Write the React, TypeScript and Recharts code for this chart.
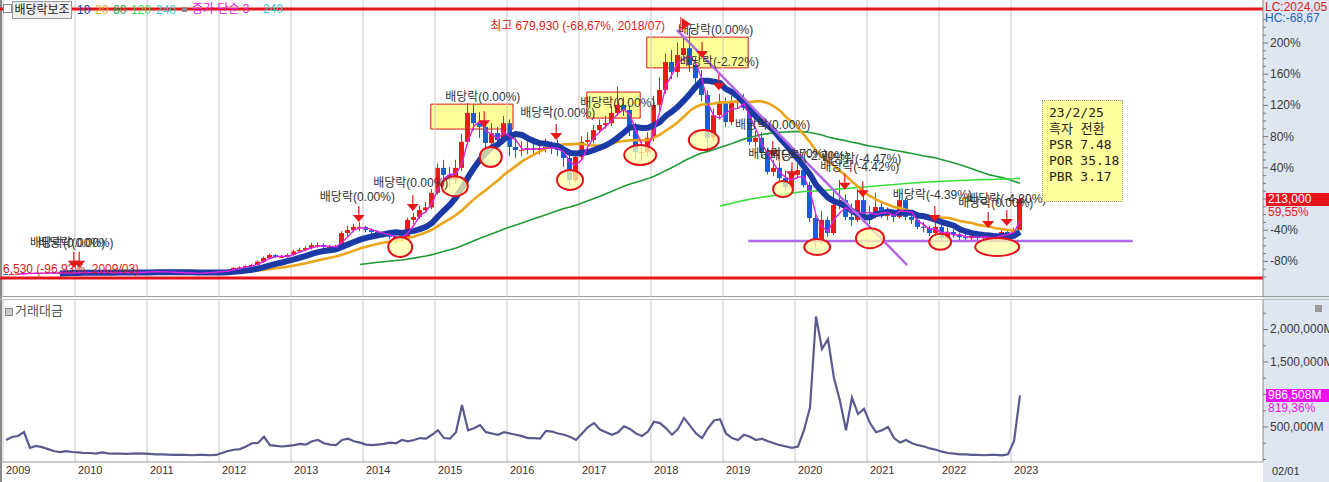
import React from 'react';
import {
  ComposedChart,
  Bar,
  Line,
  XAxis,
  YAxis,
  ReferenceLine,
  ReferenceArea,
  ReferenceDot,
} from 'recharts';

const FONT = '"Liberation Sans", "Noto Sans CJK KR", sans-serif';
const MONO = '"DejaVu Sans Mono", "Noto Sans CJK KR", monospace';

// x axis: one label per January
const yearLabels = ['2009', '2010', '2011', '2012', '2013', '2014', '2015', '2016', '2017', '2018', '2019', '2020', '2021', '2022', '2023'];

// monthly candles 2009/01 .. 2023/02, unit: 1,000 won
const opens = [
  8, 7, 8, 9, 10, 11, 10, 11, 12, 11, 10, 11,
  12, 12, 13, 12, 13, 12, 11, 12, 13, 12, 12, 13,
  14, 14, 15, 14, 13, 12, 12, 11, 10, 11, 12, 13,
  14, 16, 18, 25, 26, 30, 33, 42, 52, 60, 55, 55,
  60, 70, 74, 79, 87, 87, 82, 82, 82, 120, 128, 137,
  137, 128, 123, 120, 115, 110, 101, 106, 156, 164, 183, 190,
  230, 298, 279, 265, 298, 369, 448, 420, 410, 366, 393, 374,
  420, 355, 347, 347, 352, 347, 352, 355, 352, 347, 325, 265,
  328, 369, 374, 401, 415, 420, 448, 470, 456, 401, 341, 341,
  380, 470, 511, 587, 560, 606, 625, 579, 543, 497, 380, 442,
  478, 423, 475, 483, 462, 369, 380, 339, 287, 298, 270, 246,
  279, 292, 251, 161, 96, 156, 120, 197, 210, 164, 156, 210,
  156, 164, 191, 169, 169, 164, 210, 164, 156, 137, 134, 120,
  137, 106, 123, 115, 109, 106, 112, 106, 112, 106, 109, 123,
  115, 128,
];
const highs = [
  9, 9, 10, 11, 12, 12, 12, 13, 13, 12, 12, 13,
  13, 14, 14, 14, 14, 13, 13, 14, 14, 13, 14, 15,
  16, 16, 16, 15, 14, 13, 13, 12, 12, 13, 14, 15,
  17, 20, 27, 29, 32, 36, 45, 56, 64, 62, 60, 64,
  75, 80, 84, 94, 95, 92, 88, 88, 125, 140, 145, 150,
  140, 133, 128, 124, 118, 114, 112, 162, 175, 195, 205, 240,
  310, 320, 300, 320, 390, 475, 470, 450, 425, 420, 410, 440,
  430, 380, 370, 375, 380, 372, 378, 370, 375, 355, 340, 345,
  385, 395, 415, 430, 440, 465, 520, 490, 470, 420, 370, 395,
  495, 545, 610, 620, 640, 660, 680, 600, 565, 510, 460, 500,
  490, 495, 510, 500, 470, 400, 395, 350, 320, 315, 290, 295,
  310, 305, 260, 170, 180, 165, 240, 265, 225, 200, 240, 230,
  195, 230, 205, 190, 180, 225, 215, 175, 165, 150, 140, 150,
  142, 135, 130, 122, 118, 122, 120, 122, 118, 120, 128, 128,
  135, 220,
];
const lows = [
  6.5, 6.8, 7.5, 8.5, 9.5, 9.5, 9.5, 10.5, 10, 9.5, 9.5, 10.5,
  11, 11.5, 11.5, 11.5, 11.5, 10.5, 10.5, 11.5, 11.5, 11, 11.5, 12.5,
  13, 13.5, 13, 12, 11, 11, 10, 9, 9.5, 10.5, 11.5, 12.5,
  13, 15, 17, 23, 24, 28, 31, 40, 50, 52, 51, 53,
  58, 66, 70, 75, 80, 78, 76, 77, 80, 112, 122, 125,
  122, 118, 114, 108, 103, 92, 96, 104, 145, 158, 175, 185,
  225, 262, 245, 255, 290, 360, 400, 380, 340, 350, 360, 365,
  330, 325, 330, 335, 335, 335, 340, 335, 330, 300, 250, 258,
  320, 350, 365, 395, 405, 412, 440, 440, 385, 320, 318, 330,
  370, 455, 500, 540, 545, 590, 560, 520, 480, 345, 370, 430,
  410, 415, 460, 455, 360, 355, 325, 280, 275, 260, 238, 240,
  270, 245, 150, 80, 90, 110, 115, 185, 155, 140, 150, 150,
  145, 160, 160, 155, 150, 160, 155, 145, 130, 122, 112, 115,
  100, 102, 108, 100, 98, 100, 98, 102, 98, 100, 105, 110,
  110, 125,
];
const closes = [
  7, 8, 9, 10, 11, 10, 11, 12, 11, 10, 11, 12,
  12, 13, 12, 13, 12, 11, 12, 13, 12, 12, 13, 14,
  14, 15, 14, 13, 12, 12, 11, 10, 11, 12, 13, 14,
  16, 18, 25, 26, 30, 33, 42, 52, 60, 55, 55, 60,
  70, 74, 79, 87, 87, 82, 82, 82, 120, 128, 137, 137,
  128, 123, 120, 115, 110, 101, 106, 156, 164, 183, 190, 230,
  298, 279, 265, 298, 369, 448, 420, 410, 366, 393, 374, 420,
  355, 347, 347, 352, 347, 352, 355, 352, 347, 325, 265, 328,
  369, 374, 401, 415, 420, 448, 470, 456, 401, 341, 341, 380,
  470, 511, 587, 560, 606, 625, 579, 543, 497, 380, 442, 478,
  423, 475, 483, 462, 369, 380, 339, 287, 298, 270, 246, 279,
  292, 251, 161, 96, 156, 120, 197, 210, 164, 156, 210, 156,
  164, 191, 169, 169, 164, 210, 164, 156, 137, 134, 120, 137,
  106, 123, 115, 109, 106, 112, 106, 112, 106, 109, 123, 115,
  128, 213,
];

// 거래대금 per month, unit: 1,000M won
const tradeValue = [
  300, 346, 362, 423, 177, 208, 190, 160, 130, 115, 130, 115,
  110, 100, 100, 90, 110, 95, 90, 90, 85, 90, 95, 90,
  85, 80, 80, 75, 70, 70, 70, 65, 70, 70, 65, 70,
  100, 130, 150, 160, 200, 250, 254, 350, 220, 210, 200, 210,
  220, 240, 230, 280, 300, 250, 230, 220, 300, 320, 280, 260,
  230, 220, 230, 240, 260, 250, 300, 280, 300, 330, 320, 380,
  450, 330, 320, 420, 840, 450, 480, 530, 420, 400, 380, 420,
  400, 380, 360, 330, 330, 320, 440, 430, 400, 380, 350, 300,
  400, 500, 560, 460, 420, 380, 420, 510, 470, 400, 360, 430,
  580, 560, 480, 380, 470, 640, 520, 400, 330, 480, 600, 620,
  400, 330, 300, 380, 350, 300, 320, 280, 250, 220, 200, 180,
  200, 450, 800, 2200, 1700, 1850, 1250, 900, 450, 950, 700, 780,
  560, 420, 450, 500, 330, 260, 300, 250, 220, 200, 170, 150,
  120, 100, 90, 80, 80, 70, 70, 65, 70, 70, 65, 80,
  280, 986.508,
];

// percent axis is relative to the last price (213,000)
const basePrice = 213;
const pctLabels = [200, 160, 120, 80, 40, -40, -80];
const valueLabels = [500, 1500, 2000];

// annotations, in (month index, price)
const boxes = [
  [70.8, 84.5, 404, 472],
  [96.8, 105.7, 434, 505],
  [106.8, 123.7, 571, 655],
];
const circles = [
  [65.7, 82, 12, 10], [74.8, 248, 13, 10], [80.8, 328, 11, 10], [94, 265, 13, 10],
  [105.7, 333, 16, 10], [116.3, 374, 15, 10], [129.5, 240, 10, 8], [135.2, 82, 13, 8],
  [144, 106, 14, 10], [155.7, 96, 11, 8], [165.2, 82, 22, 9],
];
const notes: [number, number, string][] = [
  [4, 82, '배당락(0.00%)'], [5.4, 82, '배당락(0.00%)'],
  [52.3, 207, '배당락(0.00%)'], [61.2, 246, '배당락(0.00%)'],
  [73.2, 481, '배당락(0.00%)'], [85.7, 437, '배당락(0.00%)'],
  [95.7, 464, '배당락(0.00%)'], [112, 664, '배당락(0.00%)'],
  [112.3, 576, '배당락(-2.72%)'], [121.5, 404, '배당락(0.00%)'],
  [123.7, 325, '배당락(-2.70%)'], [127.3, 320, '배당락(-2.70%)'],
  [136, 311, '배당락(-4.47%)'], [135.7, 290, '배당락(-4.42%)'],
  [147.8, 213, '배당락(-4.39%)'], [158.7, 191, '배당락(0.00%)'],
  [160.2, 202, '배당락(-4.30%)'],
];
const arrows = [
  [11.3, 25], [12.2, 25], [58.8, 150], [67.8, 180], [79.7, 409], [91.7, 374],
  [116, 598], [118.8, 510], [127.8, 328], [131, 270], [139.8, 238], [142.8, 218],
  [154.8, 150], [163.7, 134], [166.8, 139],
];

function sma(src: number[], n: number) {
  return src.map((_, i) =>
    i < n - 1 ? null : src.slice(i - n + 1, i + 1).reduce((a, b) => a + b, 0) / n
  );
}

const ma3 = sma(closes, 3);
const ma10 = sma(closes, 10);
const ma20 = sma(closes, 20);
const ma60 = sma(closes, 60);
const ma120 = sma(closes, 120);

const rows = closes.map((c, i) => ({
  i,
  open: opens[i],
  high: highs[i],
  low: lows[i],
  close: c,
  range: [lows[i], highs[i]],
  ma3: ma3[i],
  ma10: ma10[i],
  ma20: ma20[i],
  ma60: ma60[i],
  ma120: ma120[i],
  value: tradeValue[i],
}));

const yearTicks = yearLabels.map((_, k) => k * 12 - 0.5);
const priceTicks: number[] = [];
for (let p = -100; p <= 230; p += 10) priceTicks.push(basePrice * (1 + p / 100));
const valueTicks: number[] = [];
for (let v = 0; v <= 2250; v += 250) valueTicks.push(v);

const Candle = (props: any) => {
  const { x, y, width, height, payload } = props;
  if (!payload) return null;
  const { open, close, high, low } = payload;
  const up = close >= open;
  const color = up ? '#f01a1a' : '#1a5cd8';
  const top = Math.min(y, y + height);
  const h = Math.abs(height);
  const k = high === low ? 0 : h / (high - low);
  const yO = top + (high - open) * k;
  const yC = top + (high - close) * k;
  const cx = x + width / 2;
  return (
    <g>
      <line x1={cx} x2={cx} y1={top} y2={top + h} stroke={color} strokeWidth={1} />
      <rect x={x} y={Math.min(yO, yC)} width={width} height={Math.max(1, Math.abs(yO - yC))} fill={color} />
    </g>
  );
};

const PriceTick = (props: any) => {
  const { x, y, payload } = props;
  const pct = Math.round((payload.value / basePrice - 1) * 100);
  const labelled = pctLabels.includes(pct);
  return (
    <g>
      <line x1={x} x2={x + (labelled ? 5 : 3)} y1={y} y2={y} stroke="#7a7a7a" />
      {labelled && (
        <text x={x + 7} y={y + 4} fontSize={12} fontFamily={FONT} fill="#3a3a3a">{`${pct}%`}</text>
      )}
    </g>
  );
};

const ValueTick = (props: any) => {
  const { x, y, payload } = props;
  const labelled = valueLabels.includes(payload.value);
  return (
    <g>
      <line x1={x} x2={x + (labelled ? 5 : 3)} y1={y} y2={y} stroke="#7a7a7a" />
      {labelled && (
        <text x={x + 7} y={y + 4} fontSize={12} fontFamily={FONT} fill="#3a3a3a">
          {`${(payload.value * 1000).toLocaleString('en-US')}M`}
        </text>
      )}
    </g>
  );
};

const YearTick = (props: any) => {
  const { x, y, payload } = props;
  const k = Math.round((payload.value + 0.5) / 12);
  return (
    <text x={x + 3} y={y + 4} fontSize={11} fontFamily={FONT} fill="#333">{yearLabels[k]}</text>
  );
};

const noteShape = (text: string, color = '#333') => (p: any) => (
  <text x={p.cx} y={p.cy} fontSize={12} fontFamily={FONT} fill={color}>{text}</text>
);

const circleShape = (rx: number, ry: number) => (p: any) => (
  <ellipse cx={p.cx} cy={p.cy} rx={rx} ry={ry} fill="#ffffa8" fillOpacity={0.75} stroke="#e0141c" strokeWidth={2} />
);

const arrowShape = (p: any) => (
  <g>
    <line x1={p.cx} x2={p.cx} y1={p.cy - 16} y2={p.cy - 5} stroke="#e81818" strokeWidth={1.2} />
    <polygon points={`${p.cx - 6},${p.cy - 7} ${p.cx + 6},${p.cy - 7} ${p.cx},${p.cy}`} fill="#e81818" />
  </g>
);

const highMark = (p: any) => (
  <g>
    <line x1={p.cx - 2} x2={p.cx - 2} y1={p.cy - 7} y2={p.cy + 7} stroke="#e81818" />
    <polygon points={`${p.cx - 1},${p.cy - 6} ${p.cx + 8},${p.cy} ${p.cx - 1},${p.cy + 6}`} fill="#e81818" />
  </g>
);

const legendItems = [
  { t: '10', c: '#1c3aa6' },
  { t: '20', c: '#e3b10f' },
  { t: '60', c: '#239b3a' },
  { t: '120', c: '#44d644' },
  { t: '240', c: '#3cc8c8' },
];

export default function App() {
  const label = (left: number, top: number, text: string, color: string, extra: any = {}) => (
    <div style={{ position: 'absolute', left, top, fontSize: 12, fontFamily: FONT, color, whiteSpace: 'nowrap', lineHeight: '13px', ...extra }}>
      {text}
    </div>
  );

  return (
    <div style={{ position: 'absolute', left: 0, top: 0, width: 1329, height: 482, background: '#fff', overflow: 'hidden' }}>
      {/* axis strip */}
      <div style={{ position: 'absolute', left: 1263, top: 0, width: 66, height: 482, background: '#dde6f1' }} />
      <div style={{ position: 'absolute', left: 0, top: 0, width: 2, height: 482, background: '#8a8a8a' }} />
      <div style={{ position: 'absolute', left: 0, top: 296, width: 1329, height: 1, background: '#9a9a9a' }} />
      <div style={{ position: 'absolute', left: 0, top: 299, width: 1329, height: 1, background: '#c0c0c0' }} />

      <div style={{ position: 'absolute', left: 0, top: 0 }}>
        <ComposedChart width={1329} height={297} data={rows} margin={{ top: 0, right: 0, bottom: 0, left: 0 }}>
          <XAxis type="number" dataKey="i" domain={[-1, 209.5]} hide allowDataOverflow />
          <YAxis
            yAxisId={0}
            orientation="right"
            type="number"
            width={66}
            domain={[-54.6, 756.4]}
            ticks={priceTicks}
            interval={0}
            tick={<PriceTick />}
            tickLine={false}
            tickSize={0}
            tickMargin={0}
            axisLine={{ stroke: '#8a8a8a' }}
            allowDataOverflow
          />
          {yearTicks.map((x) => (
            <ReferenceLine key={`g${x}`} x={x} stroke="#c8c8c8" />
          ))}
          {boxes.map((b, k) => (
            <ReferenceArea key={`b${k}`} x1={b[0]} x2={b[1]} y1={b[2]} y2={b[3]} fill="#ffff99" fillOpacity={1} stroke="#d81818" strokeWidth={1} />
          ))}
          <ReferenceLine y={731.8} stroke="#e8141c" strokeWidth={3} />
          <ReferenceLine y={-3} stroke="#e8141c" strokeWidth={3} />
          {circles.map((c, k) => (
            <ReferenceDot key={`c${k}`} x={c[0]} y={c[1]} r={1} shape={circleShape(c[2], c[3])} />
          ))}
          <Line dataKey="ma60" stroke="#1f9a35" strokeWidth={1.6} dot={false} isAnimationActive={false} />
          <Line dataKey="ma120" stroke="#38e038" strokeWidth={1.6} dot={false} isAnimationActive={false} />
          <Line dataKey="ma20" stroke="#eca51a" strokeWidth={2.6} dot={false} isAnimationActive={false} />
          <Line dataKey="ma10" stroke="#1c3aa6" strokeWidth={6} dot={false} isAnimationActive={false} />
          <Bar dataKey="range" barSize={5} shape={Candle} isAnimationActive={false} />
          <Line dataKey="ma3" stroke="#e020e0" strokeWidth={1.4} dot={false} isAnimationActive={false} />
          <ReferenceLine segment={[{ x: 111.8, y: 674.5 }, { x: 150.2, y: 32.7 }]} stroke="#b06ae6" strokeWidth={2.5} />
          <ReferenceLine segment={[{ x: 123.7, y: 98.3 }, { x: 187.8, y: 98.3 }]} stroke="#b06ae6" strokeWidth={2.5} />
          {arrows.map((a, k) => (
            <ReferenceDot key={`a${k}`} x={a[0]} y={a[1]} r={1} shape={arrowShape} />
          ))}
          {notes.map((n, k) => (
            <ReferenceDot key={`n${k}`} x={n[0]} y={n[1]} r={1} shape={noteShape(n[2])} />
          ))}
          <ReferenceDot x={80.7} y={674.5} r={1} shape={noteShape('최고 679,930 (-68,67%, 2018/07)', '#d81c1c')} />
          <ReferenceDot x={112.8} y={691} r={1} shape={highMark} />
          <ReferenceDot x={-0.5} y={12} r={1} shape={noteShape('6,530 (-96,93%, 2009/03)', '#d81c1c')} />
        </ComposedChart>
      </div>

      <div style={{ position: 'absolute', left: 0, top: 298 }}>
        <ComposedChart width={1329} height={184} data={rows} margin={{ top: 2, right: 0, bottom: 0, left: 0 }}>
          <XAxis
            type="number"
            dataKey="i"
            domain={[-1, 209.5]}
            ticks={yearTicks}
            interval={0}
            tick={<YearTick />}
            tickLine={false}
            height={20}
            axisLine={{ stroke: '#9a9a9a' }}
            allowDataOverflow
          />
          <YAxis
            orientation="right"
            type="number"
            width={66}
            domain={[-38.5, 2453.8]}
            ticks={valueTicks}
            interval={0}
            tick={<ValueTick />}
            tickLine={false}
            tickSize={0}
            tickMargin={0}
            axisLine={{ stroke: '#8a8a8a' }}
            allowDataOverflow
          />
          {yearTicks.map((x) => (
            <ReferenceLine key={`v${x}`} x={x} stroke="#c8c8c8" />
          ))}
          <Line dataKey="value" stroke="#5a5a8e" strokeWidth={2.2} dot={false} isAnimationActive={false} />
        </ComposedChart>
      </div>

      {/* legend */}
      <div style={{ position: 'absolute', left: 3, top: 4, width: 7, height: 7, border: '1px solid #888', background: '#fff' }} />
      <div style={{ position: 'absolute', left: 12, top: 1, width: 58, height: 16, border: '1px solid #999', background: '#eee', fontSize: 12, fontFamily: FONT, color: '#222', textAlign: 'center', lineHeight: '16px' }}>배당락보조</div>
      {legendItems.map((l, k) =>
        <div key={l.t} style={{ position: 'absolute', left: [77, 95, 113, 131, 156][k], top: 3, fontSize: 12, fontFamily: FONT, color: l.c }}>{l.t}</div>
      )}
      <div style={{ position: 'absolute', left: 182, top: 7, width: 5, height: 5, background: '#888' }} />
      {label(192, 3, '종가 단순 3', '#e020e0')}
      {label(263, 3, '240', '#3cc8c8')}

      {/* right strip labels */}
      {label(1265, 1, 'LC:2024,05', '#d81c1c')}
      {label(1265, 12, 'HC:-68,67', '#1f5fbf')}
      <div style={{ position: 'absolute', left: 1266, top: 193, width: 63, height: 13, background: '#e8161c', color: '#fff', fontSize: 12, fontFamily: FONT, lineHeight: '13px', paddingLeft: 2 }}>213,000</div>
      {label(1268, 206, '59,55%', '#e8161c')}
      <div style={{ position: 'absolute', left: 1266, top: 389, width: 63, height: 13, background: '#ee10ee', color: '#fff', fontSize: 12, fontFamily: FONT, lineHeight: '13px', paddingLeft: 2 }}>986,508M</div>
      {label(1268, 402, '819,36%', '#ee10ee')}
      {label(1272, 465, '02/01', '#333', { fontSize: 11 })}
      <div style={{ position: 'absolute', left: 1315, top: 305, width: 7, height: 7, background: '#999' }} />

      {/* lower pane title */}
      <div style={{ position: 'absolute', left: 5, top: 308, width: 6, height: 6, border: '1px solid #888', background: '#ccc' }} />
      {label(15, 304, '거래대금', '#555', { fontSize: 13 })}

      {/* note box */}
      <div style={{ position: 'absolute', left: 1042, top: 100, width: 81, height: 102, background: '#ffff9e', border: '1px dotted #999', fontFamily: MONO, fontSize: 13, lineHeight: '16px', color: '#222', padding: '4px 0 0 6px', boxSizing: 'border-box' }}>
        <div>23/2/25</div>
        <div>흑자 전환</div>
        <div>PSR 7.48</div>
        <div>POR 35.18</div>
        <div>PBR 3.17</div>
      </div>
    </div>
  );
}
